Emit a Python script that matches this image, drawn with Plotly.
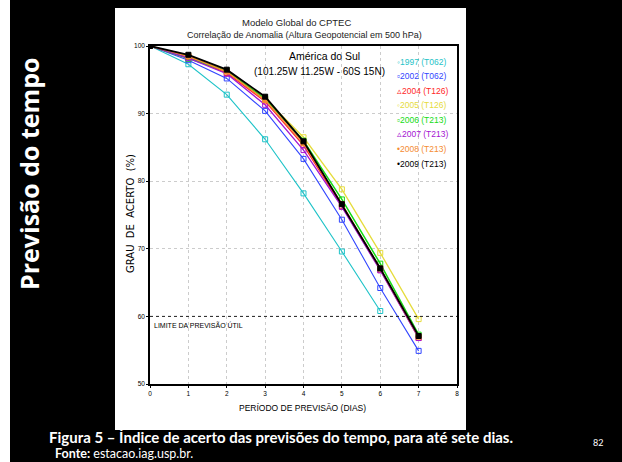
import plotly.graph_objects as go

# ---------------- data ----------------
days = [0, 1, 2, 3, 4, 5, 6, 7]
x_ticks = [0, 1, 2, 3, 4, 5, 6, 7, 8]
y_ticks = [50, 60, 70, 80, 90, 100]

years = ["1997", "2002", "2004", "2005", "2006", "2007", "2008", "2009"]
resolutions = ["T062", "T062", "T126", "T126", "T213", "T213", "T213", "T213"]

acc_1997 = [100, 97.3, 92.8, 86.2, 78.2, 69.6, 60.8]
acc_2002 = [100, 97.9, 95.2, 90.4, 83.3, 74.3, 64.2, 54.9]
acc_2004 = [100, 98.4, 96.0, 91.8, 85.3, 76.3, 66.9, 56.8]
acc_2005 = [100, 98.5, 96.3, 92.2, 86.5, 78.8, 69.4, 59.6]
acc_2006 = [100, 98.1, 96.3, 92.2, 86.0, 77.3, 67.8, 57.3]
acc_2007 = [100, 98.2, 95.9, 91.3, 84.6, 76.2, 66.8, 56.8]
acc_2008 = [100, 98.5, 96.2, 92.0, 85.6, 76.6, 67.1, 57.0]
acc_2009 = [100, 98.7, 96.5, 92.5, 85.9, 76.6, 67.1, 57.1]
series = [acc_1997, acc_2002, acc_2004, acc_2005, acc_2006, acc_2007, acc_2008, acc_2009]

limit_value = 60

# ---------------- styles ----------------
colors = ["#1ec3c8", "#3246ff", "#ff2828", "#e6dc3c", "#14dc14", "#a514d2", "#f58c32", "#000000"]
symbols = ["square-open", "square-open", "square-open", "square-open",
           "square-open", "square-open", "square", "square"]
legend_marks = ["\u25E6", "\u25AB", "\u25B5", "\u25E6", "\u25AB", "\u25B5", "\u2022", "\u2022"]
widths = [1.1, 1.1, 1.3, 1.3, 1.5, 1.3, 1.5, 1.8]

SANS = "Liberation Sans, Arial, sans-serif"

W, H = 622, 462
L, R, T, B = 150, 165, 46, 78
PW, PH = W - L - R, H - T - B


def px(x):
    return (x - L) / PW


def py(y):
    return (H - B - y) / PH


fig = go.Figure()
for vals, yr, col, sym, lw in zip(series, years, colors, symbols, widths):
    fig.add_trace(go.Scatter(
        x=days[:len(vals)], y=vals, mode="lines+markers", name=yr,
        line=dict(color=col, width=lw),
        marker=dict(symbol=sym, size=5, color=col, line=dict(color=col, width=1)),
    ))

shapes = [
    dict(type="rect", xref="paper", yref="paper", layer="below",
         x0=px(115), x1=px(466), y0=py(430), y1=py(8),
         fillcolor="white", line=dict(width=0)),
    dict(type="rect", xref="paper", yref="paper", layer="below",
         x0=px(0), x1=px(10), y0=py(462), y1=py(0),
         fillcolor="white", line=dict(width=0)),
    dict(type="line", xref="x", yref="y", x0=x_ticks[0], x1=x_ticks[-1],
         y0=limit_value, y1=limit_value, line=dict(color="#222", width=1, dash="dot")),
]

ann = []


def text(t, x, y, size, color="#000", family=SANS, xanchor="center", angle=0):
    ann.append(dict(text=t, x=px(x), y=py(y), xref="paper", yref="paper",
                    xanchor=xanchor, yanchor="middle", textangle=angle, showarrow=False,
                    font=dict(family=family, size=size, color=color)))


text("Modelo Global do CPTEC", 296, 22, 9.5, "#222")
text("Correlação de Anomalia (Altura Geopotencial em 500 hPa)", 304, 35, 9, "#222")
text("América do Sul", 324, 56, 10.5)
text("(101.25W 11.25W - 60S 15N)", 319, 72, 10)

legend_y = [62, 76, 91, 105, 120, 134, 149, 164]
for yr, res, col, mk, ly in zip(years, resolutions, colors, legend_marks, legend_y):
    text(f"{mk}{yr} ({res})", 395, ly, 8.5, col, xanchor="left")

text("LIMITE DA PREVISÃO ÚTIL", 152, 325, 7, xanchor="left")
text("GRAU  DE  ACERTO  (%)", 130, 214, 10, family="DejaVu Sans", angle=-90)
text("PERÍODO DE PREVISÃO (DIAS)", 302, 408, 8.5)

text("<b>Previsão do tempo</b>", 29, 174, 25, "white", family="Open Sans", angle=-90)
text("<b>Figura 5 – Índice de acerto das previsões do tempo, para até sete dias.</b>",
     47, 437, 15, "white", family="Lato", xanchor="left")
text("<b>Fonte:</b> estacao.iag.usp.br.", 53, 453, 12.5, "white", family="Lato", xanchor="left")
text("82", 598, 443, 9, "white", family="Lato")

axis_common = dict(
    showgrid=True, gridcolor="#cccccc", griddash="dot", gridwidth=1,
    showline=True, mirror=True, linecolor="black", linewidth=1.5,
    ticks="outside", ticklen=2, tickcolor="black",
    tickfont=dict(family=SANS, size=6.5, color="#000"), zeroline=False,
)

fig.update_layout(
    width=W, height=H,
    margin=dict(l=L, r=R, t=T, b=B, pad=0),
    paper_bgcolor="black", plot_bgcolor="white",
    showlegend=False,
    shapes=shapes, annotations=ann,
    xaxis=dict(range=[x_ticks[0], x_ticks[-1]], tickvals=x_ticks, **axis_common),
    yaxis=dict(range=[y_ticks[0], y_ticks[-1]], tickvals=y_ticks, **axis_common),
)

fig.write_html("out.html", config={"displayModeBar": False},
               post_script="document.body.style.margin='0';")
